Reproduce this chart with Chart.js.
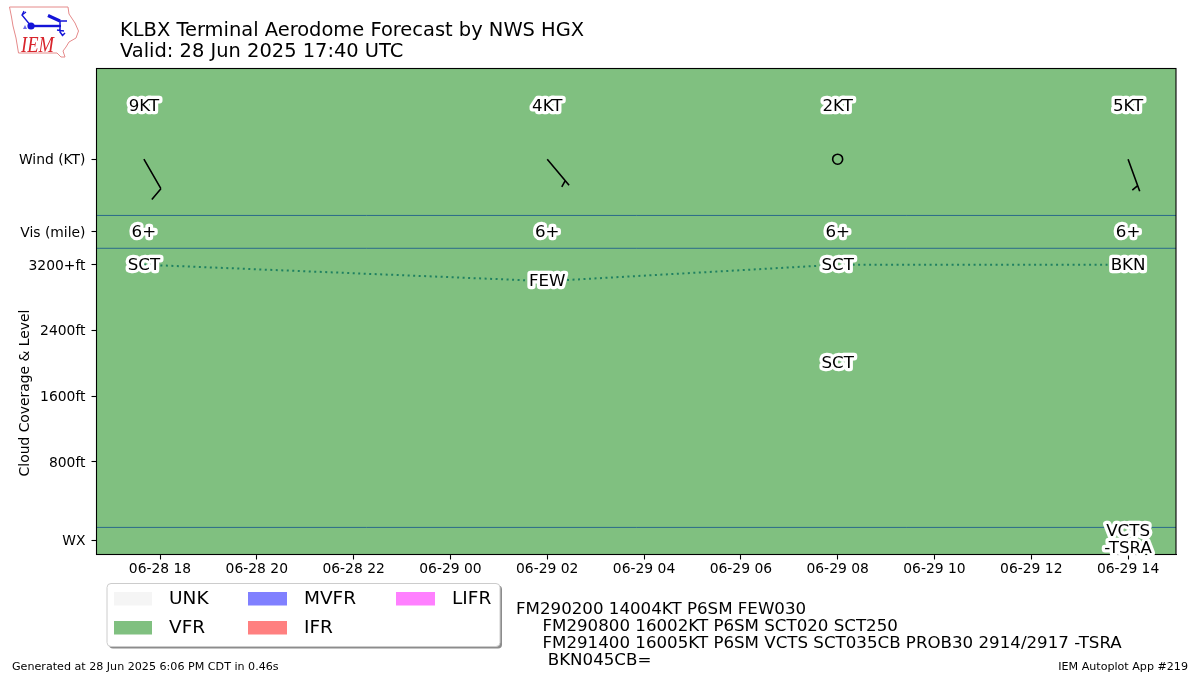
<!DOCTYPE html>
<html>
<head>
<meta charset="utf-8">
<title>KLBX TAF</title>
<script src="https://cdn.jsdelivr.net/npm/chart.js@4"></script>
<style>
html, body { margin: 0; padding: 0; background: #fff; overflow: hidden; }
#wrap { position: relative; width: 1200px; height: 675px; }
#logo { position: absolute; left: 0; top: 0; }
</style>
</head>
<body>
<div id="wrap">
<canvas id="ChartCanvas" width="1200" height="675"></canvas>
<svg id="logo" width="90" height="65" viewBox="0 0 90 65">
    <path d="M9.5 7 L68 7 L69 14 L75 23 L78.5 31 L76 38 L69 42 L66 47 L63 51 L65 57 L61 57 L57 53 L18.5 53 L16 38 L13 26 L11.5 17 Z" fill="none" stroke="#e58a8a" stroke-width="1"/>
    <g stroke="#1414d8" fill="none">
        <path d="M31 26 L61 26" stroke-width="2.4"/>
        <path d="M31 26 L22 15 L26 12 M22 15 L24 11" stroke-width="1.3"/>
        <path d="M60 21 L67 21 M60 21 L60 32 L63 36 M57 30 L64 31 M62 36 L65 33" stroke-width="1.5"/>
        <path d="M48 15.5 L60 21" stroke-width="3.2"/>
    </g>
    <circle cx="31" cy="26" r="3.6" fill="#1414d8"/>
    <path d="M25 25 L27 29 L23 29 Z" fill="#6a6ae8"/>
    <text x="21" y="52" font-family="Liberation Serif" font-style="italic" font-size="23" textLength="33" lengthAdjust="spacingAndGlyphs" fill="#d8242c">IEM</text>
</svg>
</div>
<script>
// hours are counted from 06-28 00 UTC
var axisStartHour = 16.688;
var axisEndHour = 38.99;
var axisBottom = -330;
var axisTop = 5590;

var xTickHours = [18, 20, 22, 24, 26, 28, 30, 32, 34, 36, 38];
var xTickLabels = ["06-28 18", "06-28 20", "06-28 22", "06-29 00", "06-29 02", "06-29 04", "06-29 06", "06-29 08", "06-29 10", "06-29 12", "06-29 14"];
var yTickValues = [-155, 800, 1600, 2400, 3200, 3600, 4485];
var yTickLabels = ["WX", "800ft", "1600ft", "2400ft", "3200+ft", "Vis (mile)", "Wind (KT)"];
var separatorLevels = [3800, 3400, 0];

var forecastHours = [17.667, 26, 32, 38];
var windDirection = [150, 140, 160, 160];
var windSpeed = [9, 4, 2, 5];
var windSpeedLabels = ["9KT", "4KT", "2KT", "5KT"];
var visibilityLabels = ["6+", "6+", "6+", "6+"];
var cloudLevels = [3200, 3000, 3200, 3200];
var cloudLabels = ["SCT", "FEW", "SCT", "BKN"];

var lowerCloudHours = [32];
var lowerCloudLevels = [2000];
var lowerCloudLabels = ["SCT"];
var weatherHours = [38];
var weatherLabels = ["VCTS", "-TSRA"];

var legendLabels = ["UNK", "VFR", "MVFR", "IFR", "LIFR"];
var legendColors = ["#f5f5f5", "#80c080", "#8080ff", "#ff8080", "#ff80ff"];

var titleLines = ["KLBX Terminal Aerodome Forecast by NWS HGX", "Valid: 28 Jun 2025 17:40 UTC"];
var tafLines = [
    "FM290200 14004KT P6SM FEW030",
    "     FM290800 16002KT P6SM SCT020 SCT250",
    "     FM291400 16005KT P6SM VCTS SCT035CB PROB30 2914/2917 -TSRA",
    "      BKN045CB="
];
var footerLeft = "Generated at 28 Jun 2025 6:06 PM CDT in 0.46s";
var footerRight = "IEM Autoplot App #219";

var fontName = '"DejaVu Sans"';
var windLabelLevel = 5135;
var windBarbLevel = 4485;
var visibilityLevel = 3600;
var weatherLevel = -155;

function outlinedText(ctx, text, x, y)
{
    ctx.font = "16.67px " + fontName;
    ctx.textAlign = "center";
    ctx.textBaseline = "middle";
    ctx.lineJoin = "round";
    ctx.lineWidth = 6.5;
    ctx.strokeStyle = "#fff";
    ctx.strokeText(text, x, y + 0.5);
    ctx.fillStyle = "#000";
    ctx.fillText(text, x, y + 0.5);
}

function plainText(ctx, text, x, y, font, align)
{
    ctx.font = font;
    ctx.textAlign = align || "left";
    ctx.textBaseline = "alphabetic";
    ctx.fillStyle = "#000";
    ctx.fillText(text, x, y);
}

function drawBarb(ctx, x, y, direction, speed) //staff points to where the wind comes from
{
    ctx.strokeStyle = "#000";
    ctx.lineWidth = 1.6;
    ctx.beginPath();
    var rounded = Math.round(speed / 5) * 5;
    if(rounded < 5)
    {
        ctx.arc(x, y, 5, 0, Math.PI * 2);
        ctx.stroke();
        return;
    }
    var angle = direction * Math.PI / 180;
    var dx = Math.sin(angle), dy = -Math.cos(angle); //along the staff
    var sideX = -dy, sideY = dx; //across the staff
    var endX = x + dx * 34, endY = y + dy * 34;
    ctx.moveTo(x, y);
    ctx.lineTo(endX, endY);
    if(rounded >= 10)
    {
        ctx.moveTo(endX, endY);
        ctx.lineTo(endX + dx * 4.9 + sideX * 13.3, endY + dy * 4.9 + sideY * 13.3);
    }
    else
    {
        var startX = endX - dx * 6, startY = endY - dy * 6;
        ctx.moveTo(startX, startY);
        ctx.lineTo(startX + dx * 2.5 + sideX * 6.6, startY + dy * 2.5 + sideY * 6.6);
    }
    ctx.stroke();
}

function drawLegend(ctx)
{
    ctx.save();
    ctx.beginPath();
    ctx.roundRect(109, 585.5, 393, 63, 4);
    ctx.fillStyle = "#8c8c8c";
    ctx.fill();
    ctx.beginPath();
    ctx.roundRect(107, 583.5, 393, 63, 4);
    ctx.fillStyle = "#fff";
    ctx.fill();
    ctx.strokeStyle = "#cccccc";
    ctx.lineWidth = 1;
    ctx.stroke();
    var slots = [[114, 592, 38], [114, 621, 38], [248, 592, 39], [248, 621, 39], [396, 592, 39]];
    for(var i = 0; i < legendLabels.length; i++)
    {
        ctx.fillStyle = legendColors[i];
        ctx.fillRect(slots[i][0], slots[i][1], slots[i][2], 13.5);
        plainText(ctx, legendLabels[i], slots[i][0] + slots[i][2] + 17, slots[i][1] + 11.5, "18.5px " + fontName);
    }
    ctx.restore();
}

var overlayPlugin =
{
    id: "overlay",
    afterDraw: function(chart)
    {
        var ctx = chart.ctx;
        var x = chart.scales.x;
        var y = chart.scales.y;
        var area = chart.chartArea;
        ctx.save();

        ctx.strokeStyle = "#000";
        ctx.lineWidth = 1.1;
        ctx.strokeRect(area.left, area.top, area.right - area.left, area.bottom - area.top);

        for(var i = 0; i < forecastHours.length; i++)
        {
            var px = x.getPixelForValue(forecastHours[i]);
            drawBarb(ctx, px, y.getPixelForValue(windBarbLevel), windDirection[i], windSpeed[i]);
            outlinedText(ctx, windSpeedLabels[i], px, y.getPixelForValue(windLabelLevel));
            outlinedText(ctx, visibilityLabels[i], px, y.getPixelForValue(visibilityLevel));
            outlinedText(ctx, cloudLabels[i], px, y.getPixelForValue(cloudLevels[i]));
        }
        for(var j = 0; j < lowerCloudHours.length; j++)
        {
            outlinedText(ctx, lowerCloudLabels[j], x.getPixelForValue(lowerCloudHours[j]), y.getPixelForValue(lowerCloudLevels[j]));
        }
        var wxX = x.getPixelForValue(weatherHours[0]);
        var wxY = y.getPixelForValue(weatherLevel);
        outlinedText(ctx, weatherLabels[0], wxX, wxY - 9);
        outlinedText(ctx, weatherLabels[1], wxX, wxY + 8);

        plainText(ctx, titleLines[0], 120, 36, "19.44px " + fontName);
        plainText(ctx, titleLines[1], 120, 57, "19.44px " + fontName);

        for(var k = 0; k < tafLines.length; k++)
        {
            plainText(ctx, tafLines[k], 516, 613.5 + k * 17.3, "16.67px " + fontName);
        }
        plainText(ctx, footerLeft, 12, 670, "11.11px " + fontName);
        plainText(ctx, footerRight, 1188, 670, "11.11px " + fontName, "right");

        ctx.save();
        ctx.translate(29, 393);
        ctx.rotate(-Math.PI / 2);
        plainText(ctx, "Cloud Coverage & Level", 0, 0, "13.89px " + fontName, "center");
        ctx.restore();

        drawLegend(ctx);
        ctx.restore();
    }
};

function flatLine(level, color)
{
    return {
        data: [{x: axisStartHour, y: level}, {x: axisEndHour, y: level}],
        borderColor: color,
        borderWidth: 1,
        pointRadius: 0
    };
}

var datasets = [];
datasets.push({
    label: "Cloud level",
    data: forecastHours.map(function(h, i) { return {x: h, y: cloudLevels[i]}; }),
    borderColor: "#1f8060",
    borderWidth: 2,
    borderDash: [2, 3.5],
    pointRadius: 0,
    tension: 0
});
for(var s = 0; s < separatorLevels.length; s++)
{
    datasets.push(flatLine(separatorLevels[s], "#2a6a8a"));
}
datasets.push({ //flight category of the whole forecast is VFR
    label: legendLabels[1],
    data: [{x: axisStartHour, y: axisTop}, {x: axisEndHour, y: axisTop}],
    backgroundColor: legendColors[1],
    borderWidth: 0,
    pointRadius: 0,
    fill: "start"
});

new Chart(document.getElementById("ChartCanvas").getContext("2d"),
{
    type: "line",
    data: { datasets: datasets },
    plugins: [overlayPlugin],
    options:
    {
        responsive: false,
        animation: false,
        devicePixelRatio: 1,
        layout: { padding: { top: 68.5, right: 24, left: 0, bottom: 0 } },
        plugins: { legend: { display: false }, title: { display: false }, tooltip: { enabled: false } },
        scales:
        {
            x:
            {
                type: "linear",
                min: axisStartHour,
                max: axisEndHour,
                grid: { drawOnChartArea: false, color: "#000", tickLength: 5, tickWidth: 1.1 },
                border: { color: "#000", width: 1.1 },
                afterBuildTicks: function(scale) { scale.ticks = xTickHours.map(function(v) { return {value: v}; }); },
                afterFit: function(scale) { scale.height = 120.5; },
                ticks:
                {
                    autoSkip: false,
                    maxRotation: 0,
                    padding: 2,
                    color: "#000",
                    font: { family: fontName, size: 13.89 },
                    callback: function(value, index) { return xTickLabels[index]; }
                }
            },
            y:
            {
                type: "linear",
                min: axisBottom,
                max: axisTop,
                grid: { drawOnChartArea: false, color: "#000", tickLength: 5, tickWidth: 1.1 },
                border: { color: "#000", width: 1.1 },
                afterBuildTicks: function(scale) { scale.ticks = yTickValues.map(function(v) { return {value: v}; }); },
                afterFit: function(scale) { scale.width = 96.5; },
                ticks:
                {
                    autoSkip: false,
                    padding: 6,
                    labelOffset: 1.5,
                    color: "#000",
                    font: { family: fontName, size: 13.89 },
                    callback: function(value, index) { return yTickLabels[index]; }
                }
            }
        }
    }
});
</script>
</body>
</html>
